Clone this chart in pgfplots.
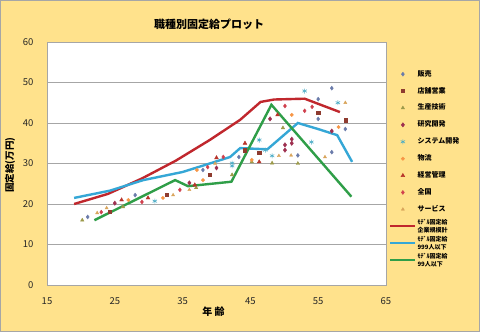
\documentclass[border=0pt]{standalone}
\usepackage{fontspec}
\setmainfont{Noto Sans CJK JP}
\usepackage{pgfplots}
\pgfplotsset{compat=1.18}
\definecolor{bgy}{HTML}{FFE28C}
\definecolor{gridc}{HTML}{A6A6A6}
\definecolor{cHan}{HTML}{6A7BAA}
\definecolor{cTen}{HTML}{8E3B2F}
\definecolor{cSei}{HTML}{9C9A4A}
\definecolor{cKen}{HTML}{9E2F4F}
\definecolor{cSys}{HTML}{4BACC6}
\definecolor{cBut}{HTML}{F79646}
\definecolor{cKei}{HTML}{B8342B}
\definecolor{cZen}{HTML}{D0404D}
\definecolor{cSer}{HTML}{D9A55B}
\definecolor{lRed}{HTML}{C0272D}
\definecolor{lBlue}{HTML}{35A7D6}
\definecolor{lGreen}{HTML}{2F9E48}
\newcommand{\twoline}[2]{\smash{\raisebox{-4.5pt}{\fontsize{6}{8.3}\selectfont\begin{tabular}[b]{@{}l@{}}#1\\#2\end{tabular}}}}
\begin{document}
\begin{tikzpicture}[x=1pt,y=1pt]
\fill[bgy] (0,0) rectangle (480,332);
\draw[gray!70, line width=1pt] (0.5,0.5) rectangle (479.5,331.5);
\begin{axis}[
  at={(47pt,47pt)}, anchor=south west,
  scale only axis, width=339pt, height=243pt,
  xmin=15, xmax=65, ymin=0, ymax=60,
  xtick={15,25,...,65}, ytick={0,10,...,60},
  major tick length=0pt,
  ymajorgrids, grid style={gridc, line width=0.8pt},
  axis line style={gridc, line width=0.8pt},
  axis background/.style={fill=white},
  /pgf/number format/assume math mode=true,
  tick label style={font=\fontsize{9.5}{10}\selectfont, text=black!85},
  xticklabel style={yshift=-9pt},
  yticklabel style={xshift=-10pt},
  clip=false,
  legend style={at={(axis description cs:1.0088,0.889)}, anchor=north west,
    draw=none, fill=none, inner sep=0pt, row sep=6.9pt,
    nodes={inner sep=1pt, text height=6pt, text depth=2pt, font=\bfseries\fontsize{7}{8}\selectfont, anchor=west}},
  legend cell align=left,
  legend image code/.code={\draw[mark repeat=2,mark phase=2,#1] plot coordinates {(0pt,0pt) (12.5pt,0pt) (25pt,0pt)};},
]
% scatter series
\addplot[only marks, mark=diamond*, mark size=2pt, draw=cHan, fill=cHan] coordinates {
(21,16.8)(28,22.2)(38,28.4)(43.3,31.6)(55,45.9)(57,48.6)(57,32.8)(55,41)(59,38.5)(52,32)};
\addlegendentry{販売}
\addplot[only marks, mark=square*, mark size=1.6pt, draw=cTen, fill=cTen] coordinates {
(24.3,18)(32.7,22.2)(39,27.2)(44.2,33.3)(55,42.5)(59,40.7)(46.3,32.6)};
\addlegendentry{店舗営業}
\addplot[only marks, mark=triangle*, mark size=2pt, draw=cSei, fill=cSei] coordinates {
(20.2,16)(26.2,19.3)(37,24)(42.3,27.2)(48.2,30.1)(52,30)(49.8,38.8)(45.2,30.4)};
\addlegendentry{生産技術}
\addplot[only marks, mark=diamond*, mark size=2.2pt, draw=cKen, fill=cKen] coordinates {
(25,20.2)(36,25.2)(40,28.9)(47.9,41)(51.1,36)(51.1,35)(50.1,34.6)(50.1,33.3)(57,38)};
\addlegendentry{研究開発}
\addplot[only marks, mark=asterisk, mark size=2.5pt, draw=cSys, line width=0.6pt] coordinates {
(30.9,20.7)(42.3,30.1)(46.3,35.8)(47.2,33.3)(48.2,31.9)(53,47.9)(57.9,45)(54,35.3)(42.3,29.4)};
\addlegendentry{システム開発}
\addplot[only marks, mark=*, mark size=1.7pt, draw=cBut, fill=cBut] coordinates {
(27,21)(37.1,28.4)(45.2,30.9)(51.1,42)(58,39)(38,25.9)(32.1,21.5)};
\addlegendentry{物流}
\addplot[only marks, mark=triangle*, mark size=2.2pt, draw=cKei, fill=cKei] coordinates {
(26,21)(29.9,21.5)(44.2,35)(46.3,30.4)(40,31.4)(36.8,24.7)(49,42)};
\addlegendentry{経営管理}
\addplot[only marks, mark=diamond*, mark size=2pt, draw=cZen, fill=cZen] coordinates {
(23,18)(29,20.5)(34.6,23.5)(38.7,29.1)(41,31.6)(50.1,44.2)(53,43)(54.1,44)};
\addlegendentry{全国}
\addplot[only marks, mark=triangle*, mark size=1.8pt, draw=cSer, fill=cSer] coordinates {
(22.4,17.8)(23.8,19)(33.6,22.2)(36,23.5)(39.8,30)(49.2,31.9)(51,32)(56,31.6)(59,45)};
\addlegendentry{サービス}
% model lines
\addplot[lRed, line width=2.4pt, mark=none] coordinates {
(19,20)(24,22.5)(29,26.3)(34,30.7)(39,35.8)(43.5,40.8)(46.5,45.2)(48.5,45.8)(53,46)(58.2,42.7)};
\addlegendentry{\twoline{ﾓﾃﾞﾙ固定給}{企業規模計}}
\addplot[lBlue, line width=2.4pt, mark=none] coordinates {
(19,21.5)(24.3,23.3)(29.2,25.9)(35,27.9)(39,30)(42,31.6)(43.5,33.8)(47.5,33.5)(52,40)(55,38.5)(57.8,37)(60,30.4)};
\addlegendentry{\twoline{ﾓﾃﾞﾙ固定給}{999人以下}}
\addplot[lGreen, line width=2.4pt, mark=none] coordinates {
(22,16)(33.9,25.9)(35.8,24.4)(42.2,25.5)(48.1,44.5)(59.9,21.8)};
\addlegendentry{\twoline{ﾓﾃﾞﾙ固定給}{99人以下}}
\end{axis}
\node[font=\bfseries\fontsize{11}{12}\selectfont] at (209,308) {職種別固定給プロット};
\node[font=\bfseries\fontsize{10}{11}\selectfont] at (213.5,20) {年 齢};
\node[font=\bfseries\fontsize{9.5}{10}\selectfont, rotate=90] at (10,167) {固定給(万円)};
\end{tikzpicture}
\end{document}
